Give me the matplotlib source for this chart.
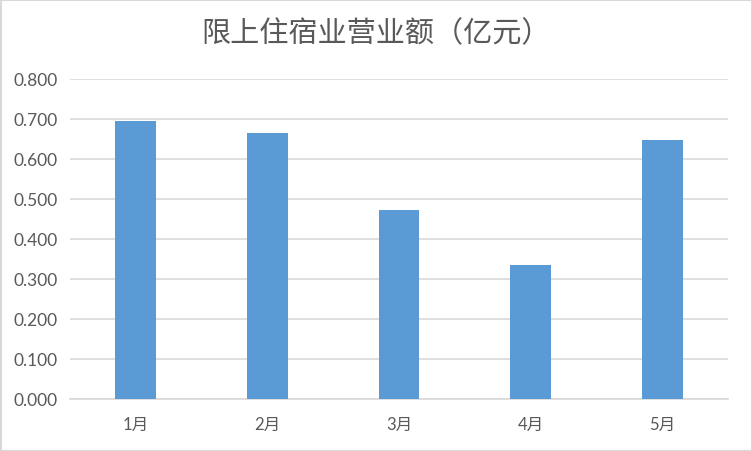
import matplotlib.pyplot as plt
from matplotlib.patches import Rectangle
from matplotlib.ticker import FormatStrFormatter

months = ["1月", "2月", "3月", "4月", "5月"]
revenue = [0.695, 0.665, 0.472, 0.335, 0.647]
title = "限上住宿业营业额（亿元）"

plt.rcParams["font.family"] = ["Lato", "Noto Sans CJK SC", "DejaVu Sans"]

fig = plt.figure(figsize=(7.52, 4.52), dpi=100)
fig.patch.set_facecolor("white")
ax = fig.add_axes([70 / 752, 52 / 452, 658 / 752, 320 / 452])

x = range(len(months))
ax.bar(x, revenue, width=0.31, color="#5B9BD5", zorder=3)

ax.set_xlim(-0.5, len(months) - 0.5)
ax.set_ylim(0, 0.8)
ax.set_yticks([i / 10 for i in range(9)])
ax.yaxis.set_major_formatter(FormatStrFormatter("%.3f"))
ax.set_xticks(list(x))
ax.set_xticklabels(months)

ax.grid(axis="y", color="#D9D9D9", linewidth=1.2, zorder=0)
for side in ["top", "right", "left"]:
    ax.spines[side].set_visible(False)
ax.spines["bottom"].set_color("#D9D9D9")
ax.spines["bottom"].set_linewidth(1.2)
ax.tick_params(axis="y", length=0, labelsize=12.5, labelcolor="#595959", pad=9)
ax.tick_params(axis="x", length=0, labelsize=12, labelcolor="#595959", pad=12)

fig.text(0.5, 1 - 34 / 452, title, ha="center", va="center", fontsize=21,
         color="#595959", weight="light",
         family=["Noto Sans CJK SC", "DejaVu Sans"])

fig.patches.append(Rectangle((0.5 / 752, 0.5 / 452), 751 / 752, 451 / 452,
                             transform=fig.transFigure, fill=False,
                             edgecolor="#D9D9D9", linewidth=1.5))

fig.savefig("out.png", dpi=100, facecolor="white")
